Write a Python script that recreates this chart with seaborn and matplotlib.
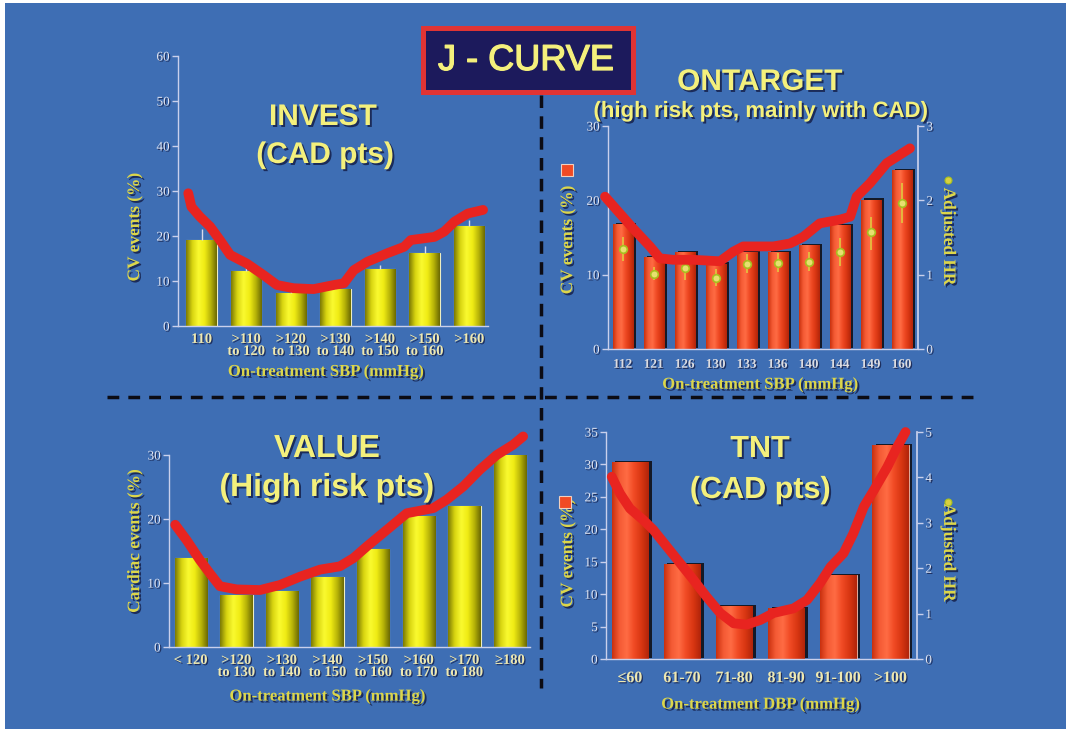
import numpy as np
import matplotlib
matplotlib.use("Agg")
import matplotlib.pyplot as plt
import matplotlib.patheffects as pe
from matplotlib.colors import LinearSegmentedColormap
from matplotlib.patches import Rectangle
from matplotlib.lines import Line2D
import seaborn as sns

# ---------------------------------------------------------------- data
invest_groups = ["110", ">110\nto 120", ">120\nto 130", ">130\nto 140",
                 ">140\nto 150", ">150\nto 160", ">160"]
invest_events = [19.2, 12.2, 7.3, 8.3, 12.6, 16.3, 22.2]
invest_err = [2.4, 1.0, 0.6, 0.7, 1.0, 1.4, 1.4]
invest_curve_x = [-0.30, -0.23, -0.04, 0.19, 0.41, 0.64, 1.01, 1.39, 1.69, 2.06,
                  2.51, 2.96, 3.19, 3.41, 3.72, 4.17, 4.54, 4.69, 5.22, 5.44,
                  5.67, 5.97, 6.31]
invest_curve_y = [29.5, 26.5, 24.3, 22.1, 19.1, 15.8, 13.9, 11.3, 9.1, 8.4,
                  8.2, 9.1, 9.5, 12.4, 14.3, 16.2, 17.6, 19.1, 19.8, 21.0,
                  23.2, 25.0, 25.8]

ontarget_sbp = ["112", "121", "126", "130", "133", "136", "140", "144", "149", "160"]
ontarget_events = [16.8, 12.4, 13.0, 11.5, 13.1, 13.1, 14.0, 16.7, 20.1, 24.1]
ontarget_hr = [1.34, 1.01, 1.09, 0.96, 1.15, 1.16, 1.17, 1.31, 1.57, 1.96]
ontarget_hr_lo = [1.18, 0.93, 0.93, 0.85, 1.02, 1.03, 1.05, 1.12, 1.33, 1.69]
ontarget_hr_hi = [1.51, 1.10, 1.24, 1.07, 1.28, 1.29, 1.30, 1.50, 1.78, 2.23]
ontarget_curve_x = [-0.57, -0.19, 0.34, 0.88, 1.20, 1.63, 2.28, 3.14, 3.57, 3.89,
                    4.86, 5.40, 5.83, 6.36, 7.01, 7.34, 7.55, 7.98, 8.52, 9.27]
ontarget_curve_y = [20.5, 18.7, 16.2, 13.8, 12.2, 12.0, 12.0, 11.8, 13.1, 13.8,
                    13.8, 14.2, 15.1, 16.9, 17.4, 17.8, 20.5, 22.3, 25.0, 27.0]

value_groups = ["< 120", ">120\nto 130", ">130\nto 140", ">140\nto 150",
                ">150\nto 160", ">160\nto 170", ">170\nto 180", "\u2265180"]
value_events = [13.9, 8.2, 8.8, 11.0, 15.3, 20.5, 22.0, 30.0]
value_curve_x = [-0.34, -0.09, 0.20, 0.42, 0.64, 1.01, 1.52, 1.96, 2.40, 2.84,
                 3.27, 3.57, 3.86, 4.30, 4.74, 5.32, 5.61, 5.98, 6.34, 6.71,
                 7.07, 7.29]
value_curve_y = [19.1, 16.7, 13.6, 11.5, 9.5, 9.0, 8.9, 9.7, 11.0, 12.1,
                 12.6, 13.9, 15.7, 18.3, 20.9, 21.7, 23.0, 25.1, 27.7, 30.0,
                 31.6, 32.9]

tnt_dbp = ["\u226460", "61-70", "71-80", "81-90", "91-100", ">100"]
tnt_events = [30.4, 14.6, 8.2, 7.9, 12.9, 33.0]
tnt_curve_x = [-0.35, -0.19, 0.00, 0.26, 0.45, 0.71, 0.96, 1.22, 1.47, 1.73,
               1.99, 2.24, 2.50, 2.76, 3.14, 3.40, 3.65, 3.85, 4.10, 4.29,
               4.49, 4.68, 4.94, 5.13, 5.29]
tnt_curve_y = [28.1, 25.5, 23.2, 21.4, 19.9, 17.3, 14.8, 12.2, 9.6, 7.1,
               5.5, 5.3, 6.0, 7.1, 7.8, 9.1, 11.7, 14.2, 16.3, 19.4,
               23.5, 26.0, 29.6, 32.7, 35.0]

# ---------------------------------------------------------------- style
sns.set_theme(style="white")
plt.rcParams["font.family"] = ["Liberation Serif", "DejaVu Serif"]
plt.rcParams["axes.facecolor"] = "none"

BG = "#3e6eb4"
AXIS = "#c9d0ec"
NUM = "#e2e5f0"
CREAM = "#eee8b0"
LABEL = "#dcd64a"
TITLE = "#f4f07c"
CURVE = "#e82420"
SANS = ["Liberation Sans", "DejaVu Sans"]

shadow = [pe.withSimplePatchShadow(offset=(1.4, -1.4), shadow_rgbFace="#15204a", alpha=0.85)]
small_shadow = [pe.withSimplePatchShadow(offset=(0.9, -0.9), shadow_rgbFace="#15204a", alpha=0.8)]

YELLOW_STOPS = ["#7a7804", "#d8d410", "#fafa30", "#f0ec14", "#b8b408", "#6a6802"]
RED_STOPS = ["#c8300e", "#f45a34", "#ff6c44", "#f04a24", "#d83612", "#b0240a"]

W, H = 1072, 736
fig = plt.figure(figsize=(W / 100, H / 100), dpi=100, facecolor="white")
fig.add_artist(Rectangle((5 / W, 7 / H), 1061 / W, 726 / H, transform=fig.transFigure,
                         facecolor=BG, edgecolor="none", zorder=-5))


def px_axes(left, top, right, bottom):
    return fig.add_axes([left / W, 1 - bottom / H, (right - left) / W, (bottom - top) / H])


def shade_bars(ax, stops):
    cmap = LinearSegmentedColormap.from_list("bar", stops)
    grad = np.linspace(0, 1, 128).reshape(1, -1)
    for p in list(ax.patches):
        x0, y0, w, h = p.get_x(), p.get_y(), p.get_width(), p.get_height()
        im = ax.imshow(grad, cmap=cmap, extent=(x0, x0 + w, y0, y0 + h), aspect="auto",
                       interpolation="bicubic", zorder=p.get_zorder() + 0.01)
        im.set_clip_path(p)


def style_axes(ax, xlim, ylim, yticks, xcolor, xsize, xpad):
    ax.set_xlim(*xlim)
    ax.set_ylim(*ylim)
    ax.set_yticks(yticks)
    ax.grid(False)
    for s in ("top", "right"):
        ax.spines[s].set_visible(False)
    for s in ("left", "bottom"):
        ax.spines[s].set_color(AXIS)
        ax.spines[s].set_linewidth(1.0)
    ax.tick_params(axis="y", colors=AXIS, labelcolor=NUM, length=4, width=1,
                   direction="out", labelsize=9.5, pad=2, left=True)
    ax.tick_params(axis="x", length=0, labelcolor=xcolor, labelsize=xsize, pad=xpad)
    for t in ax.get_xticklabels():
        t.set_fontweight("bold")
        t.set_linespacing(0.9)
        t.set_path_effects(small_shadow)
    for t in ax.get_yticklabels():
        t.set_path_effects(small_shadow)


def set_labels(ax, xlabel, xpos, ylabel, ypos):
    ax.set_xlabel(xlabel, color=LABEL, fontsize=12, fontweight="bold", va="center")
    ax.xaxis.set_label_coords(*xpos)
    ax.xaxis.label.set_path_effects(shadow)
    ax.set_ylabel(ylabel, color=LABEL, fontsize=12.5, fontweight="bold", va="center")
    ax.yaxis.set_label_coords(*ypos)
    ax.yaxis.label.set_path_effects(shadow)


def right_axis(ax, ylim, yticks, label, lpos):
    ax2 = ax.twinx()
    ax2.set_ylim(*ylim)
    ax2.set_yticks(yticks)
    ax2.grid(False)
    for s in ("top", "left", "bottom"):
        ax2.spines[s].set_visible(False)
    ax2.spines["right"].set_color(AXIS)
    ax2.tick_params(axis="y", colors=AXIS, labelcolor=NUM, length=4, width=1,
                    direction="out", labelsize=9.5, pad=2, right=True)
    for t in ax2.get_yticklabels():
        t.set_path_effects(small_shadow)
    ax2.set_ylabel(label, color=LABEL, fontsize=12.5, fontweight="bold",
                   rotation=270, va="center")
    ax2.yaxis.set_label_coords(*lpos)
    ax2.yaxis.label.set_path_effects(shadow)
    return ax2


def legend_marks(ax, sq, dot):
    ax.plot(*sq, marker="s", ms=9, mfc="#f04a24", mec="#f0d0c0", mew=0.8,
            transform=ax.transAxes, clip_on=False, zorder=8)
    ax.plot(*dot, marker="o", ms=5, mfc="#d8d040", mec="#a8c020", mew=0.8,
            transform=ax.transAxes, clip_on=False, zorder=8)


curve_kw = dict(color=CURVE, lw=7, solid_capstyle="round", solid_joinstyle="round",
                clip_on=False, zorder=7)

# ---------------------------------------------------------------- INVEST
ax1 = px_axes(178, 56, 488, 326)
sns.barplot(x=invest_groups, y=invest_events, ax=ax1, color="#f0ec10", saturation=1,
            width=0.68, edgecolor="#eeeec0", linewidth=0.8)
shade_bars(ax1, YELLOW_STOPS)
ax1.errorbar(np.arange(len(invest_events)), invest_events,
             yerr=[np.zeros(len(invest_err)), invest_err], fmt="none",
             ecolor="#d8dcec", elinewidth=1.0, zorder=4)
ax1.plot(invest_curve_x, invest_curve_y, **curve_kw)
style_axes(ax1, (-0.53, 6.42), (0, 60), range(0, 61, 10), CREAM, 10.5, 5)
set_labels(ax1, "On-treatment SBP (mmHg)", (0.476, -0.170), "CV events (%)", (-0.139, 0.367))

# ---------------------------------------------------------------- ONTARGET
ax2 = px_axes(608, 126, 918, 349)
sns.barplot(x=ontarget_sbp, y=ontarget_events, ax=ax2, color="#f04a24", saturation=1,
            width=0.65, edgecolor="#f0c0b0", linewidth=0.6)
for p in ax2.patches:
    p.set_path_effects([pe.SimplePatchShadow(offset=(2.6, 0.8), shadow_rgbFace="#101018",
                                             alpha=0.9), pe.Normal()])
shade_bars(ax2, RED_STOPS)
style_axes(ax2, (-0.474, 9.53), (0, 30), [0, 10, 20, 30], "#dcdce0", 9.5, 7)
set_labels(ax2, "On-treatment SBP (mmHg)", (0.490, -0.160), "CV events (%)", (-0.129, 0.49))
ax2r = right_axis(ax2, (0, 3), [0, 1, 2, 3], "Adjusted HR", (1.097, 0.503))
hr = np.array(ontarget_hr)
ax2r.errorbar(np.arange(len(hr)), hr,
              yerr=[hr - np.array(ontarget_hr_lo), np.array(ontarget_hr_hi) - hr],
              fmt="none", ecolor="#e0d040", elinewidth=1.1, zorder=5)
sns.scatterplot(x=np.arange(len(hr)), y=hr, ax=ax2r, s=30, color="#e8e070",
                edgecolor="#a8c020", linewidth=1.2, zorder=6)
ax2r.plot(ontarget_curve_x, ontarget_curve_y, transform=ax2.transData, **curve_kw)
ax2r.set_ylim(0, 3)
legend_marks(ax2, (-0.132, 0.803), (1.097, 0.758))

# ---------------------------------------------------------------- VALUE
ax3 = px_axes(169, 455, 530, 647)
sns.barplot(x=value_groups, y=value_events, ax=ax3, color="#f0ec10", saturation=1,
            width=0.71, edgecolor="#eeeec0", linewidth=0.8)
shade_bars(ax3, YELLOW_STOPS)
ax3.plot(value_curve_x, value_curve_y, **curve_kw)
style_axes(ax3, (-0.476, 7.44), (0, 30), [0, 10, 20, 30], CREAM, 10.5, 5)
set_labels(ax3, "On-treatment SBP (mmHg)", (0.438, -0.258), "Cardiac events (%)", (-0.094, 0.553))

# ---------------------------------------------------------------- TNT
ax4 = px_axes(606, 432, 917, 659)
sns.barplot(x=tnt_dbp, y=tnt_events, ax=ax4, color="#f04a24", saturation=1,
            width=0.70, edgecolor="#f0c0b0", linewidth=0.6)
for p in ax4.patches:
    p.set_path_effects([pe.SimplePatchShadow(offset=(2.6, 0.8), shadow_rgbFace="#101018",
                                             alpha=0.9), pe.Normal()])
shade_bars(ax4, RED_STOPS)
ax4.plot(tnt_curve_x, tnt_curve_y, **curve_kw)
style_axes(ax4, (-0.46, 5.51), (0, 35), range(0, 36, 5), CREAM, 11.5, 8)
set_labels(ax4, "On-treatment DBP (mmHg)", (0.496, -0.201), "CV events (%)", (-0.122, 0.467))
right_axis(ax4, (0, 5), range(0, 6), "Adjusted HR", (1.10, 0.467))
legend_marks(ax4, (-0.132, 0.691), (1.10, 0.691))

# ---------------------------------------------------------------- titles
def title(x, y, s, size):
    fig.text(x / W, 1 - y / H, s, ha="center", va="baseline", fontsize=size,
             fontweight="bold", color=TITLE, family=SANS, path_effects=shadow)

title(323, 125, "INVEST", 21.5)
title(325, 163, "(CAD pts)", 21.5)
title(760, 90, "ONTARGET", 21.5)
title(760, 117, "(high risk pts, mainly with CAD)", 16)
title(327, 457, "VALUE", 23)
title(327, 496, "(High risk pts)", 23)
title(760, 457, "TNT", 22)
title(760, 498, "(CAD pts)", 22)

fig.add_artist(Rectangle((423 / W, 1 - 92 / H), 210 / W, 64 / H, transform=fig.transFigure,
                         facecolor="#1c1a5c", edgecolor="#e03434", linewidth=3.6, zorder=3))
fig.text(526 / W, 1 - 70 / H, "J - CURVE", ha="center", va="baseline", fontsize=26,
         color=TITLE, family=SANS, zorder=4,
         path_effects=[pe.withStroke(linewidth=0.9, foreground=TITLE)])

# ---------------------------------------------------------------- dividers
fig.add_artist(Line2D([107 / W, 975 / W], [1 - 397 / H, 1 - 397 / H], transform=fig.transFigure,
                      color="#0c0c14", lw=2.5, linestyle=(0, (3.4, 2.6)), zorder=2))
fig.add_artist(Line2D([541 / W, 541 / W], [1 - 95 / H, 1 - 688 / H], transform=fig.transFigure,
                      color="#0c0c14", lw=2.5, linestyle=(0, (3.6, 2.4)), zorder=2))

fig.savefig("out.png", dpi=100, facecolor=fig.get_facecolor())
